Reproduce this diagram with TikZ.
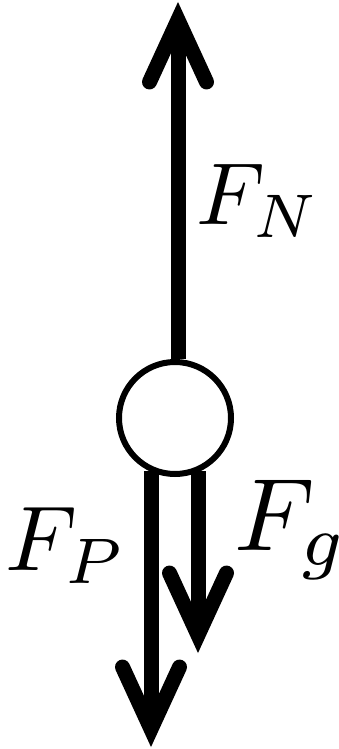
\documentclass[tikz,border=0pt]{standalone}
\usetikzlibrary{arrows.meta}
\begin{document}
\begin{tikzpicture}[x=1pt,y=-1pt,
  force/.style={line width=15pt,
    -{Straight Barb[length=62pt,width=57pt,line cap=round,line join=miter]}},
  lbl/.style={anchor=base west,inner sep=0pt}]
\useasboundingbox (0,0) rectangle (339,749);
\coordinate (nTip) at (178,2);
\coordinate (pTip) at (151,747);
\coordinate (gTip) at (198,653);
\node[draw,circle,line width=6pt,minimum size=112pt,inner sep=0pt,fill=white] (ball) at (175,418) {};
\draw[force] (ball.north -| nTip) -- (nTip);
\draw[force] (ball.245 -| pTip) -- (pTip);
\draw[force] (ball.295 -| gTip) -- (gTip);
\node[lbl,scale=8.8] (fn) at (195,224) {$F_N$};
\node[lbl,scale=9.2] (fp) at (4,570) {$F_P$};
\node[lbl,scale=10.3] (fg) at (232,550) {$F_g$};
\end{tikzpicture}
\end{document}
